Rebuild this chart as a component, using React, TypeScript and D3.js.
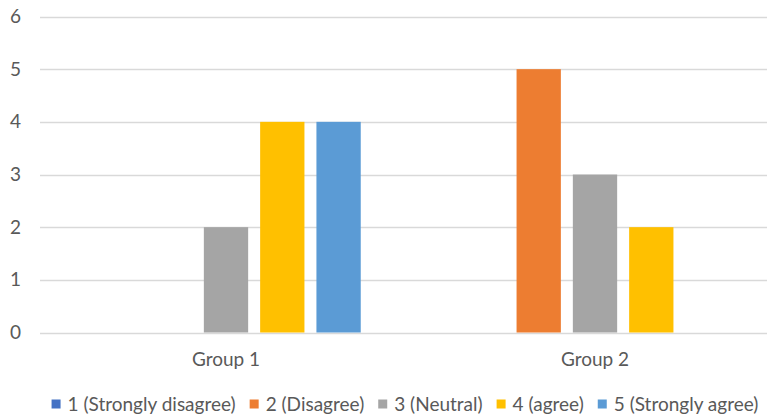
import { useEffect, useRef } from 'react';
import * as d3 from 'd3';

const groups = ['Group 1', 'Group 2'];
const seriesNames = [
  '1 (Strongly disagree)',
  '2 (Disagree)',
  '3 (Neutral)',
  '4 (agree)',
  '5 (Strongly agree)',
];
const seriesColors = ['#4472C4', '#ED7D31', '#A5A5A5', '#FFC000', '#5B9BD5'];
// values per series, in group order
const group1Values = [0, 0, 2, 4, 4];
const group2Values = [0, 5, 3, 2, 0];
const yTicks = [0, 1, 2, 3, 4, 5, 6];

const W = 767;
const H = 419;
const FONT = 'Lato, "Open Sans", sans-serif';
const FONT_SIZE = 19;
const TEXT = '#595959';

export default function App() {
  const svgRef = useRef<SVGSVGElement>(null);

  useEffect(() => {
    if (!svgRef.current) return;
    const svg = d3.select(svgRef.current);
    svg.selectAll('*').remove();

    const valuesByGroup = [group1Values, group2Values];

    // plot area runs a little past the right edge (cropped chart)
    const x0 = d3.scaleBand<string>().domain(groups).range([41.5, 779.5]);
    const x1 = d3
      .scaleBand<string>()
      .domain(seriesNames)
      .range([0, x0.bandwidth()])
      .paddingInner(0.213)
      .paddingOuter(0.884);
    const y = d3.scaleLinear().domain([0, 6]).range([332.5, 16.5]);

    // gridlines
    svg
      .append('g')
      .selectAll('line')
      .data(yTicks)
      .join('line')
      .attr('x1', 40)
      .attr('x2', W)
      .attr('y1', d => Math.round(y(d)) + 0.5)
      .attr('y2', d => Math.round(y(d)) + 0.5)
      .attr('stroke', '#d9d9d9')
      .attr('stroke-width', 1.3);

    // y labels
    svg
      .append('g')
      .selectAll('text')
      .data(yTicks)
      .join('text')
      .attr('x', 21)
      .attr('y', d => y(d))
      .attr('dy', '0.35em')
      .attr('text-anchor', 'end')
      .attr('font-family', FONT)
      .attr('font-size', FONT_SIZE)
      .attr('fill', TEXT)
      .text(d => d);

    // bars
    const gGroups = svg
      .append('g')
      .selectAll('g')
      .data(groups)
      .join('g')
      .attr('transform', d => `translate(${x0(d)},0)`);

    gGroups
      .selectAll('rect')
      .data((g, gi) =>
        seriesNames.map((s, si) => ({ s, si, v: valuesByGroup[gi][si] }))
      )
      .join('rect')
      .filter(d => d.v > 0)
      .attr('x', d => x1(d.s)!)
      .attr('width', x1.bandwidth())
      .attr('y', d => y(d.v))
      .attr('height', d => y(0) - y(d.v))
      .attr('fill', d => seriesColors[d.si]);

    // group labels
    svg
      .append('g')
      .selectAll('text')
      .data(groups)
      .join('text')
      .attr('x', d => x0(d)! + x0.bandwidth() / 2)
      .attr('y', 359.5)
      .attr('dy', '0.35em')
      .attr('text-anchor', 'middle')
      .attr('font-family', FONT)
      .attr('font-size', FONT_SIZE)
      .attr('fill', TEXT)
      .text(d => d);

    // legend
    const legend = svg.append('g');
    const sq = 9;
    const gapAfterSq = 7;
    const gapBetween = 14;
    let cx = 0;
    seriesNames.forEach((name, i) => {
      const item = legend.append('g').attr('transform', `translate(${cx},0)`);
      item
        .append('rect')
        .attr('x', 0)
        .attr('y', -sq / 2)
        .attr('width', sq)
        .attr('height', sq)
        .attr('fill', seriesColors[i]);
      const t = item
        .append('text')
        .attr('x', sq + gapAfterSq)
        .attr('y', 0)
        .attr('dy', '0.35em')
        .attr('font-family', FONT)
        .attr('font-size', FONT_SIZE)
        .attr('fill', TEXT)
        .text(name);
      const w = (t.node() as SVGTextElement).getComputedTextLength();
      cx += sq + gapAfterSq + w + gapBetween;
    });
    const total = cx - gapBetween;
    const center = 405;
    legend.attr('transform', `translate(${center - total / 2},404)`);
  }, []);

  return (
    <div style={{ position: 'fixed', left: 0, top: 0, width: W, height: H, background: '#fff' }}>
      <svg ref={svgRef} width={W} height={H} style={{ display: 'block' }} />
    </div>
  );
}
